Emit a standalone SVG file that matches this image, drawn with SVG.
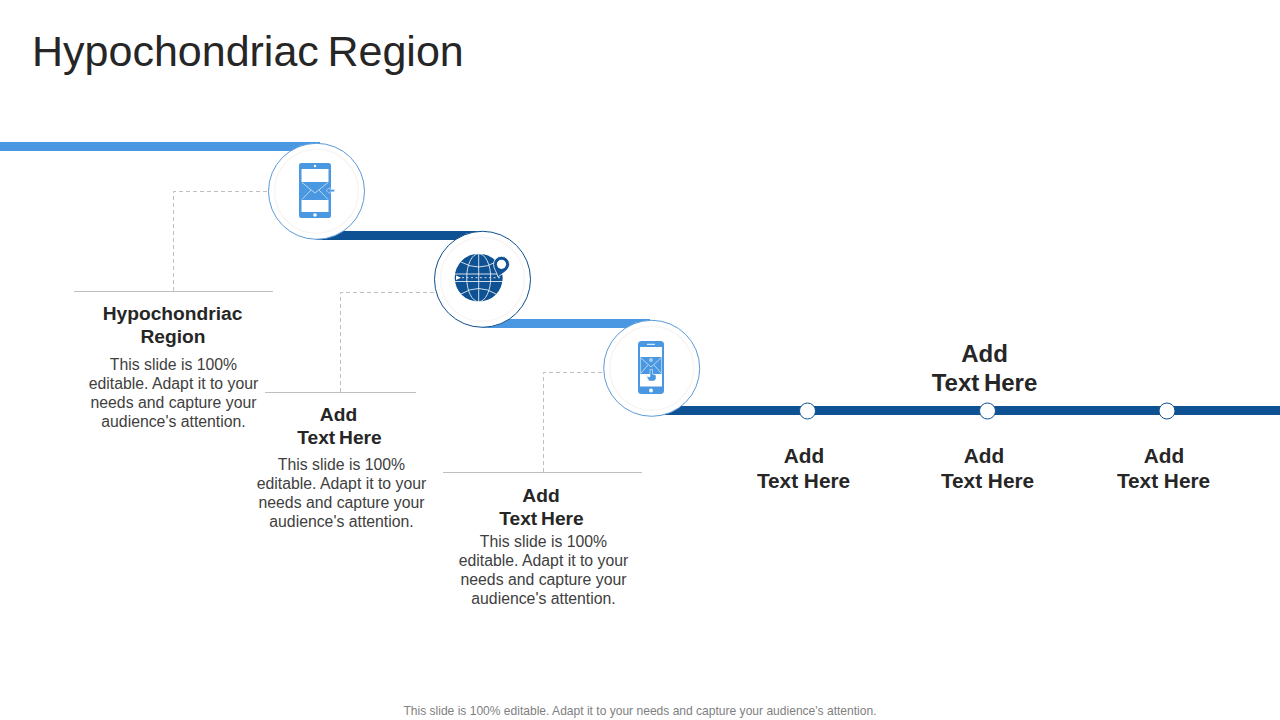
<svg xmlns="http://www.w3.org/2000/svg" width="1280" height="720" viewBox="0 0 1280 720">
<style>
text{font-family:"Liberation Sans",Arial,sans-serif;text-anchor:middle}
.t{font-size:19.200px;font-weight:700;fill:#262626;word-spacing:-1.500px}
.p{font-size:20.800px;font-weight:700;fill:#262626}
.h{font-size:24px;font-weight:700;fill:#262626;word-spacing:-2px}
.b{font-size:15.800px;fill:#404040}
.dash{fill:none;stroke:#bfbfbf;stroke-width:1;stroke-dasharray:4 3}
.rule{stroke:#bfbfbf;stroke-width:1}
.lb{fill:#4a97e2}.db{fill:#0f5294}
.halo{fill:none;stroke:#f8f6f4;stroke-width:1.500}
.dot{fill:#fff;stroke:#0f5294;stroke-width:1}
</style>
<rect width="1280" height="720" fill="#fff"/>
<text x="32" y="66" style="text-anchor:start;font-size:43px;fill:#262626;word-spacing:-3.300px">Hypochondriac Region</text>
<g id="connectors">
<rect class="lb" x="0" y="142" width="320" height="9"/>
<rect class="db" x="316" y="231" width="166" height="9"/>
<rect class="lb" x="482" y="319" width="168" height="9"/>
<rect class="db" x="651" y="406" width="629" height="9"/>
<path class="dash" d="M173.500 291V191.500H268"/>
<path class="dash" d="M340.500 392V292.500H434"/>
<path class="dash" d="M543.500 472V372.500H603"/>
<path class="rule" d="M74 291.500H273M265 392.500H416M443 472.500H642"/>
</g>
<g id="node1">
<circle cx="316.500" cy="191.300" r="48" fill="#fff" stroke="#5a9bd8" stroke-width="1"/>
<circle class="halo" cx="316.500" cy="191.300" r="42"/>
<rect class="lb" x="299" y="163" width="32" height="55" rx="2.500"/>
<rect x="301.500" y="169" width="27" height="43" fill="#fff"/>
<circle cx="315" cy="166" r="1.200" fill="#fff"/>
<circle cx="315" cy="215" r="1.800" fill="#fff"/>
<rect class="lb" x="301" y="182" width="28" height="18"/>
<path d="M302 182.500L315 193L328 182.500M302 199.500L311 190M328 199.500L319 190" fill="none" stroke="#fff" stroke-width=".6"/>
<path class="lb" d="M326 190.500L330 187.500V189.500H334.500V191.800H330V193.500Z" stroke="#fff" stroke-width=".4"/>
</g>
<g id="node2">
<circle cx="482.500" cy="279.300" r="48" fill="#fff" stroke="#0f4f8e" stroke-width="1"/>
<circle class="halo" cx="482.500" cy="279.300" r="42"/>
<circle class="db" cx="478.700" cy="277.700" r="24"/>
<g fill="none" stroke="#fff" stroke-width=".8">
<ellipse cx="478.700" cy="277.700" rx="12" ry="24"/>
<path d="M478.700 254V302M461 262Q478.700 272 496 262M461 294Q478.700 283 496 294"/>
<path d="M455 274H503M455 281.500H503"/>
<path d="M462 277.700H500" stroke-dasharray="2 2.500"/>
</g>
<path d="M456 275.500L461 277.700L456 280Z" fill="#fff"/>
<path class="db" d="M498 277C497 272 493.500 269 493.500 264.300A8 8 0 0 1 509.500 264.300C509.500 270 503 273 498 277Z" stroke="#fff" stroke-width=".8"/>
<circle cx="501.500" cy="264.300" r="4.600" fill="#fff"/>
</g>
<g id="node3">
<circle cx="651.700" cy="368.300" r="48" fill="#fff" stroke="#5a9bd8" stroke-width="1"/>
<circle class="halo" cx="651.700" cy="368.300" r="42"/>
<rect class="lb" x="638" y="341" width="26" height="53" rx="3.500"/>
<rect x="640" y="347" width="22" height="39.500" fill="#fff"/>
<rect x="647" y="343.800" width="8" height="1" fill="#fff"/>
<circle cx="651" cy="390.500" r="1.900" fill="#fff"/>
<rect class="lb" x="640.500" y="357" width="21" height="17"/>
<path d="M641 358L651 367L661 358M641 373L648 365M661 373L654 365" fill="none" stroke="#fff" stroke-width=".6"/>
<circle cx="651" cy="360" r="2" fill="#fff" fill-opacity=".5"/>
<path class="lb" d="M650 369.500H652.500V374L656 375V379L654 381H649L646.500 376.500L650 377Z" stroke="#fff" stroke-width=".5"/>
</g>
<g id="label1">
<text class="t" x="172.500" y="320">Hypochondriac</text><text class="t" x="173" y="343">Region</text>
<text class="b" x="173.500" y="370">This slide is 100%</text><text class="b" x="173.500" y="389">editable. Adapt it to your</text><text class="b" x="173.500" y="408">needs and capture your</text><text class="b" x="173.500" y="427">audience's attention.</text>
</g>
<g id="label2">
<text class="t" x="338.500" y="421">Add</text><text class="t" x="339.500" y="444">Text Here</text>
<text class="b" x="341.500" y="470">This slide is 100%</text><text class="b" x="341.500" y="489">editable. Adapt it to your</text><text class="b" x="341.500" y="508">needs and capture your</text><text class="b" x="341.500" y="527">audience's attention.</text>
</g>
<g id="label3">
<text class="t" x="541" y="502">Add</text><text class="t" x="541.500" y="525">Text Here</text>
<text class="b" x="543.500" y="547">This slide is 100%</text><text class="b" x="543.500" y="566">editable. Adapt it to your</text><text class="b" x="543.500" y="585">needs and capture your</text><text class="b" x="543.500" y="604">audience's attention.</text>
</g>
<g id="point1"><circle class="dot" cx="807.500" cy="411" r="8"/><text class="p" x="804" y="463">Add</text><text class="p" x="803.500" y="488">Text Here</text></g>
<g id="point2"><circle class="dot" cx="987.500" cy="411" r="8"/><text class="p" x="984" y="463">Add</text><text class="p" x="987.500" y="488">Text Here</text></g>
<g id="point3"><circle class="dot" cx="1167" cy="411" r="8"/><text class="p" x="1164" y="463">Add</text><text class="p" x="1163.500" y="488">Text Here</text></g>
<g id="heading"><text class="h" x="984.500" y="362">Add</text><text class="h" x="984.500" y="391">Text Here</text></g>
<text x="640" y="715" style="font-size:12.050px;fill:#7f7f7f">This slide is 100% editable. Adapt it to your needs and capture your audience's attention.</text>
</svg>
